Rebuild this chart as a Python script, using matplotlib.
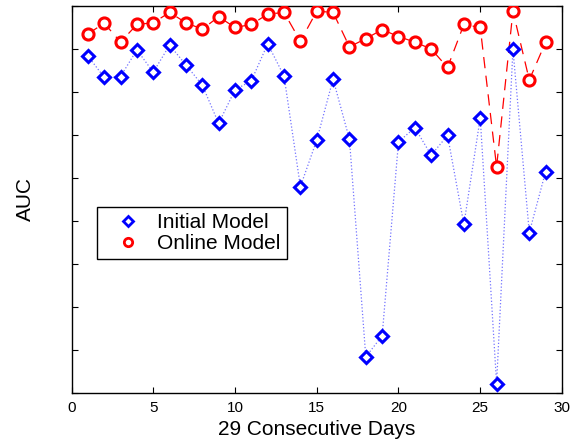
import numpy as np
import matplotlib
matplotlib.use("Agg")
import matplotlib.pyplot as plt
from matplotlib.lines import Line2D

plt.rcParams['font.family'] = ['Liberation Sans', 'DejaVu Sans']

# %% data
days = list(range(1, 30))
initial_auc = [0.9884, 0.9834, 0.9836, 0.9898, 0.9846, 0.9909, 0.9863, 0.9816,
               0.9727, 0.9805, 0.9826, 0.9912, 0.9837, 0.9580, 0.9688, 0.9830,
               0.9690, 0.9184, 0.9233, 0.9684, 0.9717, 0.9653, 0.9699, 0.9492,
               0.9740, 0.9122, 0.9899, 0.9473, 0.9615]
online_auc = [0.9935, 0.9960, 0.9916, 0.9957, 0.9961, 0.9985, 0.9961, 0.9946,
              0.9975, 0.9950, 0.9957, 0.9981, 0.9985, 0.9918, 0.9988, 0.9985,
              0.9905, 0.9924, 0.9945, 0.9929, 0.9916, 0.9900, 0.9857, 0.9957,
              0.9950, 0.9626, 0.9988, 0.9828, 0.9916]
series_names = ["Initial Model", "Online Model"]
xticks = [0, 5, 10, 15, 20, 25, 30]

fig = plt.figure(figsize=(5.72, 4.40), dpi=100)
ax = fig.add_axes([0.125, 0.1068, 0.8575, 0.8796])

# thin connecting lines first, open markers on top
ax.plot(days, initial_auc, ':', color=(0.45, 0.45, 1.0), lw=0.9, zorder=2)
ax.plot(days, online_auc, '--', color='red', lw=0.9, dashes=(9, 6), zorder=2)
ax.plot(days, initial_auc, 'D', ls='none', ms=6, mew=2.2, mec='#0000ff',
        mfc='white', zorder=3)
ax.plot(days, online_auc, 'o', ls='none', ms=8, mew=2.2, mec='red',
        mfc='white', zorder=3)

ax.set_xlim(0, 30)
ax.set_ylim(0.91, 1.0)
ax.set_xticks(xticks)
ax.set_yticks(np.arange(0.91, 1.0001, 0.01))
ax.set_yticklabels([])
ax.tick_params(direction='in', top=True, right=True, length=4, width=0.8,
               labelsize=11, pad=6)
for s in ax.spines.values():
    s.set_linewidth(1.0)

ax.set_xlabel("29 Consecutive Days", fontsize=15, labelpad=3)
ax.set_ylabel("AUC", fontsize=15, labelpad=20)

# legend shows markers only (MATLAB style)
handles = [Line2D([], [], ls='none', marker='D', ms=5, mew=2, mec='#0000ff',
                  mfc='white'),
           Line2D([], [], ls='none', marker='o', ms=6, mew=2, mec='red',
                  mfc='white')]
leg = ax.legend(handles, series_names, loc='upper left',
                bbox_to_anchor=(0.0514, 0.481), borderaxespad=0,
                fontsize=15, fancybox=False, frameon=True,
                handlelength=2.4, handletextpad=0.2, borderpad=0.3,
                labelspacing=0.1)
leg.get_frame().set_edgecolor('black')
leg.get_frame().set_linewidth(1.0)
leg.get_frame().set_alpha(1)

fig.savefig("out.png", dpi=100)
